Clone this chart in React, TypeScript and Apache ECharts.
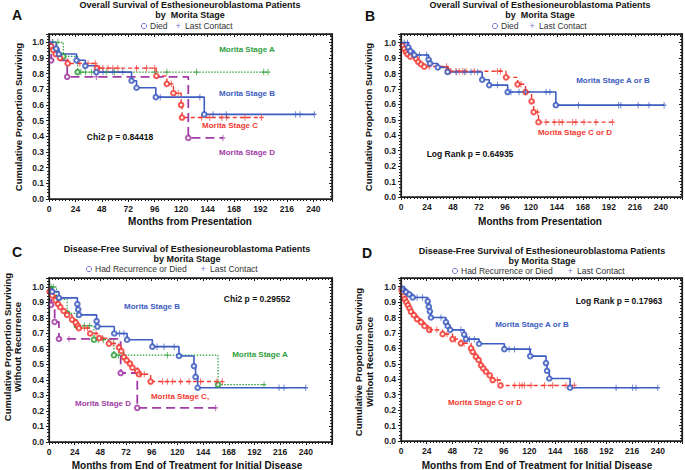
import React, { useEffect, useRef } from "react";
import * as echarts from "echarts";

type Pt = [number, number];
interface Curve { events: Pt[]; censor: number[]; end: number; }

// ---------- tick labels ----------
const xTickLabels = ["0", "24", "48", "72", "96", "120", "144", "168", "192", "216", "240"];
const yTickLabels = ["0.0", "0.1", "0.2", "0.3", "0.4", "0.5", "0.6", "0.7", "0.8", "0.9", "1.0"];

// ---------- Panel A: overall survival by Morita stage ----------
const aStageA: Curve = {
  events: [[13, 0.91], [26, 0.81]],
  censor: [3.5, 8, 29, 33, 38.5, 42, 52, 59.6, 96, 107, 134, 195, 199],
  end: 199,
};
const aStageB: Curve = {
  events: [[6.5, 0.96], [9, 0.925], [25, 0.885], [33, 0.85], [43, 0.81], [75, 0.755], [79.5, 0.71], [97, 0.65], [141, 0.54]],
  censor: [3, 49, 58, 67, 101, 137, 149, 161, 224, 228, 241],
  end: 241,
};
const aStageC: Curve = {
  events: [[2, 0.975], [4, 0.95], [6, 0.925], [10, 0.9], [17, 0.865], [43.5, 0.835], [97.5, 0.785], [107, 0.735], [113, 0.675], [120, 0.6], [120.8, 0.52]],
  censor: [28, 35.5, 42, 46, 49, 53.6, 58, 62.6, 79.4, 88.5, 96, 111, 117.3, 138.6, 146, 157, 161.3, 178, 193],
  end: 193,
};
const aStageD: Curve = {
  events: [[2, 0.885], [16.5, 0.78], [126.5, 0.39]],
  censor: [43, 158],
  end: 158,
};

// ---------- Panel B: overall survival, A or B vs C or D ----------
const bStageAB: Curve = {
  events: [[6.8, 0.97], [8.6, 0.945], [12.3, 0.92], [25.5, 0.89], [26.8, 0.865], [34, 0.84], [43, 0.81], [75, 0.76], [81.5, 0.725], [98.5, 0.68], [143, 0.595]],
  censor: [3, 6, 17, 23.7, 51, 58.5, 64.6, 70.8, 89, 101.5, 109, 115, 134, 137.5, 164, 201, 203, 219, 229, 243],
  end: 243,
};
const bStageCD: Curve = {
  events: [[1.5, 0.98], [3, 0.96], [4.6, 0.94], [6, 0.925], [8.6, 0.91], [14, 0.895], [16, 0.875], [18.5, 0.86], [21.5, 0.845], [43.5, 0.815], [97, 0.775], [107.7, 0.73], [115, 0.68], [120.6, 0.62], [122.5, 0.55], [127, 0.485]],
  censor: [26, 42, 46, 50.8, 53.8, 57, 60, 67.7, 89, 92, 110.8, 126, 133.8, 141.5, 146, 149, 158.5, 161.5, 169, 180, 195.4],
  end: 195.4,
};

// ---------- Panel C: disease-free survival by Morita stage ----------
const cStageA: Curve = {
  events: [[7, 0.92], [17, 0.83], [26, 0.75], [42, 0.66], [60.7, 0.56], [158, 0.37]],
  censor: [2, 4, 33, 38, 46, 51, 65, 70, 110.6, 201],
  end: 201,
};
const cStageB: Curve = {
  events: [[3, 0.97], [9.3, 0.93], [26.5, 0.89], [27.3, 0.855], [28, 0.82], [44.5, 0.78], [45.3, 0.745], [61, 0.7], [73, 0.66], [96.6, 0.615], [121.5, 0.555], [135.5, 0.49], [137, 0.42], [139, 0.35]],
  censor: [66, 70, 101, 107.5, 117, 215, 219.6, 240],
  end: 240,
};
const cStageC: Curve = {
  events: [[0.6, 0.97], [3, 0.946], [6, 0.914], [8.5, 0.89], [10.6, 0.87], [13.7, 0.845], [17, 0.82], [21.5, 0.79], [25, 0.77], [27, 0.75], [28, 0.735], [38.5, 0.7], [47, 0.67], [56, 0.635], [65.4, 0.61], [67.6, 0.587], [70, 0.548], [72.6, 0.527], [75.7, 0.505], [78, 0.48], [82.5, 0.458], [84, 0.437], [95, 0.39]],
  censor: [33, 36, 44, 50, 60, 86, 89, 106, 110.6, 115.3, 123, 131, 141.7, 157, 162],
  end: 162,
};
const cStageD: Curve = {
  events: [[2, 0.885], [5.3, 0.775], [9.3, 0.665], [67, 0.445], [82.5, 0.22]],
  censor: [18.7, 155.8],
  end: 155.8,
};

// ---------- Panel D: disease-free survival, A or B vs C or D ----------
const dStageAB: Curve = {
  events: [[1.6, 0.985], [4.7, 0.965], [7.8, 0.95], [11, 0.93], [25, 0.905], [26, 0.87], [27, 0.84], [28, 0.8], [42, 0.77], [43.6, 0.745], [46, 0.72], [59, 0.69], [60.7, 0.66], [73, 0.63], [96.6, 0.595], [120.8, 0.55], [135.5, 0.505], [136.5, 0.455], [138.6, 0.405], [158, 0.345]],
  censor: [3, 15, 20, 37.4, 56, 64, 68.5, 101, 106, 120, 201, 216.5, 219.6, 240],
  end: 240,
};
const dStageCD: Curve = {
  events: [[0.5, 0.98], [1.5, 0.96], [2.5, 0.94], [3.5, 0.92], [5, 0.9], [6.5, 0.88], [8, 0.86], [9.3, 0.838], [12, 0.815], [15, 0.79], [18.7, 0.77], [22, 0.745], [26.4, 0.72], [38.9, 0.693], [48.2, 0.66], [56, 0.633], [65.5, 0.6], [67, 0.578], [70, 0.546], [72.5, 0.525], [74.8, 0.49], [77, 0.47], [79.4, 0.45], [83, 0.425], [85.7, 0.395], [93, 0.36]],
  censor: [28, 33.5, 43, 51, 59, 90, 105.9, 110.6, 113.1, 115.3, 121.5, 134, 141.7, 154.2, 162],
  end: 162,
};

// ---------- styles ----------
const GREEN = "#2f9e3c";
const BLUE = "#3d5cc0";
const RED = "#f23a32";
const PURPLE = "#a23ca6";
const LEGEND_SYM = "#7a78d2";
const FRAME = "#1e1e1e";
const FONT = '"Liberation Sans", Arial, sans-serif';
const PLUS = "path://M4,0H6V4H10V6H6V10H4V6H0V4H4Z";

const grids = [
  { left: 49, top: 34, width: 283, height: 165, xMax: 257, yMax: 1.053 },
  { left: 401, top: 34, width: 281, height: 163, xMax: 259.5, yMax: 1.056 },
  { left: 49, top: 278, width: 283, height: 164, xMax: 264.5, yMax: 1.058 },
  { left: 401, top: 278, width: 281, height: 163, xMax: 262.6, yMax: 1.056 },
];

function survAt(events: Pt[], t: number): number {
  let s = 1;
  for (const [et, es] of events) if (et <= t) s = es;
  return s;
}

function curveSeries(gi: number, c: Curve, color: string, width: number, dash: any) {
  const line: Pt[] = [[0, 1], ...c.events, [c.end, survAt(c.events, c.end)]];
  const ax = { xAxisIndex: gi * 2, yAxisIndex: gi * 2 };
  return [
    {
      type: "line", ...ax, data: line, step: "end", symbol: "none", showSymbol: false, silent: true, z: 2,
      lineStyle: { color, width, type: dash },
    },
    {
      type: "scatter", ...ax, data: c.events, symbol: "emptyCircle", symbolSize: 4.6, silent: true, z: 3,
      itemStyle: { color, borderColor: color, borderWidth: 0.9, opacity: 0.85 },
    },
    {
      type: "scatter", ...ax, data: c.censor.map((t) => [t, survAt(c.events, t)]), symbol: PLUS, symbolSize: [4.5, 6.5], silent: true, z: 3,
      itemStyle: { color },
    },
  ];
}

function txt(text: string, x: number, y: number, size: number, color = "#111", weight = "bold", align = "center", rotation = 0) {
  return {
    type: "text", x, y, rotation, silent: true,
    style: {
      text, fill: color, font: `${weight} ${size}px ${FONT}`,
      textAlign: align, align, textVerticalAlign: "middle", verticalAlign: "middle",
    },
  };
}

function legend(cx: number, cy: number, diedText: string, plusX: number) {
  return [
    { type: "circle", shape: { cx, cy, r: 2.6 }, style: { fill: "none", stroke: LEGEND_SYM, lineWidth: 1 }, silent: true },
    txt(diedText, cx + 6, cy, 8.5, "#333", "normal", "left"),
    txt("+", plusX, cy, 9, LEGEND_SYM, "normal", "center"),
    txt("Last Contact", plusX + 7, cy, 8.5, "#333", "normal", "left"),
  ];
}

function frameBars(g: { left: number; top: number; width: number; height: number }) {
  const w = 1.4;
  const bar = (x: number, y: number, width: number, height: number) => ({
    type: "rect", silent: true, z: 20,
    shape: { x, y, width, height },
    style: { fill: FRAME },
  });
  return [
    bar(g.left - w / 2, g.top - w / 2, g.width + w, w),
    bar(g.left - w / 2, g.top + g.height - w / 2, g.width + w, w),
    bar(g.left - w / 2, g.top - w / 2, w, g.height + w),
    bar(g.left + g.width - w / 2, g.top - w / 2, w, g.height + w),
  ];
}

export default function App() {
  const ref = useRef<HTMLDivElement>(null);
  useEffect(() => {
    if (!ref.current) return;
    const chart = echarts.init(ref.current, undefined, { renderer: "svg" });

    const xAxis: any[] = [];
    const yAxis: any[] = [];
    grids.forEach((g, i) => {
      const common = { gridIndex: i, type: "value", min: 0, splitLine: { show: false } };
      xAxis.push({
        ...common, max: g.xMax, interval: 24, position: "bottom",
        axisLine: { show: true, onZero: false, lineStyle: { color: FRAME, width: 1.2 } },
        axisTick: { show: true, inside: false, length: 3, lineStyle: { color: FRAME, width: 1 } },
        minorTick: { show: true, splitNumber: 8, length: 2, lineStyle: { color: FRAME, width: 1 } },
        axisLabel: {
          margin: 5, color: "#1a1a1a", fontFamily: FONT, fontWeight: "bold", fontSize: 8.5,
          formatter: (v: number) => { const k = Math.round(v / 24); return Math.abs(v - k * 24) < 1e-6 && k < xTickLabels.length ? xTickLabels[k] : ""; },
        },
      });
      xAxis.push({
        ...common, max: g.xMax, interval: 24, position: "top",
        axisLine: { show: true, onZero: false, lineStyle: { color: FRAME, width: 1.2 } },
        axisTick: { show: true, inside: true, length: 3, lineStyle: { color: FRAME, width: 1 } },
        minorTick: { show: true, splitNumber: 8, length: 2, lineStyle: { color: FRAME, width: 1 } },
        axisLabel: { show: false },
      });
      yAxis.push({
        ...common, max: g.yMax, interval: 0.1, position: "left",
        axisLine: { show: true, onZero: false, lineStyle: { color: FRAME, width: 1.2 } },
        axisTick: { show: true, inside: false, length: 3, lineStyle: { color: FRAME, width: 1 } },
        minorTick: { show: true, splitNumber: 5, length: 2, lineStyle: { color: FRAME, width: 1 } },
        axisLabel: {
          margin: 5, color: "#1a1a1a", fontFamily: FONT, fontWeight: "bold", fontSize: 8.5,
          formatter: (v: number) => { const k = Math.round(v * 10); return Math.abs(v * 10 - k) < 1e-6 && k < yTickLabels.length ? yTickLabels[k] : ""; },
        },
      });
      yAxis.push({
        ...common, max: g.yMax, interval: 0.1, position: "right",
        axisLine: { show: true, onZero: false, lineStyle: { color: FRAME, width: 1.2 } },
        axisTick: { show: true, inside: true, length: 3, lineStyle: { color: FRAME, width: 1 } },
        minorTick: { show: true, splitNumber: 5, length: 2, lineStyle: { color: FRAME, width: 1 } },
        axisLabel: { show: false },
      });
    });

    const series: any[] = [
      ...curveSeries(0, aStageA, GREEN, 1.2, [1.5, 1.5]),
      ...curveSeries(0, aStageC, RED, 1.4, [4, 3]),
      ...curveSeries(0, aStageD, PURPLE, 1.8, [9, 5]),
      ...curveSeries(0, aStageB, BLUE, 1.6, "solid"),
      ...curveSeries(1, bStageCD, RED, 1.4, [4, 3]),
      ...curveSeries(1, bStageAB, BLUE, 1.6, "solid"),
      ...curveSeries(2, cStageA, GREEN, 1.2, [1.5, 1.5]),
      ...curveSeries(2, cStageC, RED, 1.4, [4, 3]),
      ...curveSeries(2, cStageD, PURPLE, 1.8, [9, 5]),
      ...curveSeries(2, cStageB, BLUE, 1.6, "solid"),
      ...curveSeries(3, dStageCD, RED, 1.4, [4, 3]),
      ...curveSeries(3, dStageAB, BLUE, 1.6, "solid"),
    ];

    const graphic: any[] = [
      ...grids.flatMap(frameBars),
      // panel letters
      txt("A", 17, 15, 14),
      txt("B", 370, 16, 14),
      txt("C", 17, 252, 14),
      txt("D", 367, 253, 14),
      // titles
      txt("Overall Survival of Esthesioneuroblastoma Patients", 190, 5, 9),
      txt("by  Morita Stage", 190, 15, 9),
      txt("Overall Survival of Esthesioneuroblastoma Patients", 540, 5, 9),
      txt("by  Morita Stage", 540, 15, 9),
      txt("Disease-Free Survival of Esthesioneuroblastoma Patients", 187, 249, 9),
      txt("by Morita Stage", 187, 259, 9),
      txt("Disease-Free Survival of Esthesioneuroblastoma Patients", 542, 251, 9),
      txt("by Morita Stage", 542, 261, 9),
      // legends
      ...legend(144, 26, "Died", 178),
      ...legend(495, 26, "Died", 532),
      ...legend(89, 269, "Had Recurrence or Died", 203),
      ...legend(455, 271, "Had Recurrence or Died", 570),
      // axis names
      txt("Cumulative Proportion Surviving", 18, 117, 9.5, "#111", "bold", "center", Math.PI / 2),
      txt("Cumulative Proportion Surviving", 368, 117, 9.5, "#111", "bold", "center", Math.PI / 2),
      txt("Cumulative Proportion Surviving", 7, 347, 9.5, "#111", "bold", "center", Math.PI / 2),
      txt("Without Recurrence", 17.5, 347, 9.5, "#111", "bold", "center", Math.PI / 2),
      txt("Cumulative Proportion Surviving", 358, 362, 9.5, "#111", "bold", "center", Math.PI / 2),
      txt("Without Recurrence", 369.5, 362, 9.5, "#111", "bold", "center", Math.PI / 2),
      txt("Months from Presentation", 190, 221, 10),
      txt("Months from Presentation", 540, 221, 10),
      txt("Months from End of Treatment for Initial Disease", 187, 465, 10),
      txt("Months from End of Treatment for Initial Disease", 537, 465, 10),
      // in-plot labels, panel A
      txt("Morita Stage A", 247, 49, 8, GREEN),
      txt("Morita Stage B", 247, 93, 8, BLUE),
      txt("Morita Stage C", 230, 125, 8, RED),
      txt("Morita Stage D", 247, 152, 8, PURPLE),
      txt("Chi2 p = 0.84418", 120, 137, 8.5),
      // panel B
      txt("Morita Stage A or B", 613, 80, 8, BLUE),
      txt("Morita Stage C or D", 575, 132, 8, RED),
      txt("Log Rank p = 0.64935", 470, 154, 8.5),
      // panel C
      txt("Morita Stage B", 152, 306, 8, BLUE),
      txt("Chi2 p = 0.29552", 257, 299, 8.5),
      txt("Morita Stage A", 260, 354, 8, GREEN),
      txt("Morita Stage C,", 180, 396, 8, RED),
      txt("Morita Stage D", 103, 403, 8, PURPLE),
      // panel D
      txt("Log Rank p = 0.17963", 619, 301, 8.5),
      txt("Morita Stage A or B", 532, 324, 8, BLUE),
      txt("Morita Stage C or D", 485, 402, 8, RED),
    ];

    chart.setOption({
      animation: false,
      backgroundColor: "#ffffff",
      grid: grids.map((g) => ({
        left: g.left, top: g.top, width: g.width, height: g.height,
        containLabel: false, outerBoundsMode: "none", show: false,
      })),
      xAxis,
      yAxis,
      series,
      graphic,
    });
    return () => chart.dispose();
  }, []);

  return (
    <div
      ref={ref}
      style={{ position: "fixed", left: 0, top: 0, width: 685, height: 470, background: "#fff" }}
    />
  );
}
